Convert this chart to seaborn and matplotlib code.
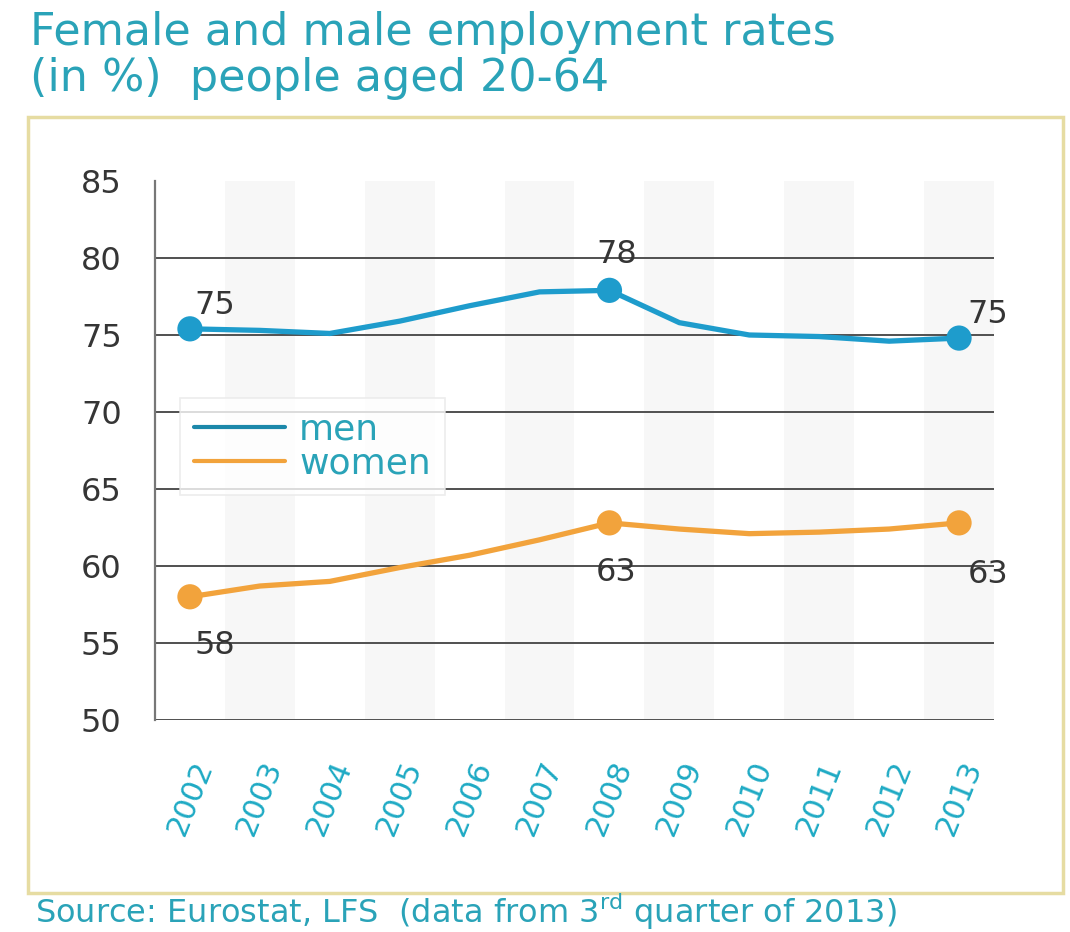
import matplotlib
matplotlib.use("Agg")
import matplotlib.pyplot as plt
from matplotlib.patches import Rectangle
from matplotlib.lines import Line2D
import seaborn as sns
import pandas as pd

# Employment rates (%) of people aged 20-64
years = ["2002", "2003", "2004", "2005", "2006", "2007",
         "2008", "2009", "2010", "2011", "2012", "2013"]
men = [75.4, 75.3, 75.1, 75.9, 76.9, 77.8, 77.9, 75.8, 75.0, 74.9, 74.6, 74.8]
women = [58.0, 58.7, 59.0, 59.9, 60.7, 61.7, 62.8, 62.4, 62.1, 62.2, 62.4, 62.8]
highlight_years = ["2002", "2008", "2013"]
y_ticks = [50, 55, 60, 65, 70, 75, 80, 85]

TEAL = "#2aa3b8"
XLAB = "#1eaac4"
MEN_C = "#1e9ccc"
WOMEN_C = "#f2a33c"
DARK = "#353535"

sns.set_style("white")
plt.rcParams["font.family"] = ["DejaVu Sans"]

idx = list(range(len(years)))
df = pd.DataFrame({
    "pos": idx * 2,
    "rate": men + women,
    "sex": ["men"] * len(years) + ["women"] * len(years),
})
hl = df[[years[p] in highlight_years for p in df["pos"]]]

fig = plt.figure(figsize=(10.7, 9.32), dpi=100)
W, H = 1070, 932
ax = fig.add_axes([155 / W, 1 - 720 / H, (994 - 155) / W, (720 - 181) / H])

# alternating column shading
for i in idx:
    if i % 2 == 1:
        ax.axvspan(i - 0.5, i + 0.5, color="#f7f7f7", lw=0, zorder=0)
for t in y_ticks[:-1]:
    ax.axhline(t, color="#505050", lw=1.4, zorder=1)

palette = {"men": MEN_C, "women": WOMEN_C}
sns.lineplot(data=df, x="pos", y="rate", hue="sex", palette=palette,
             lw=3.8, ax=ax, legend=False, zorder=3)
sns.scatterplot(data=hl, x="pos", y="rate", hue="sex", palette=palette,
                s=330, edgecolor="none", ax=ax, legend=False, zorder=4)

# value labels for highlighted years
offsets = {
    ("men", 0): (18, 17), ("men", 6): (5, 26), ("men", 11): (21, 17),
    ("women", 0): (18, -35), ("women", 6): (5, -36), ("women", 11): (21, -37),
}
for (sex, i), (dx, dy) in offsets.items():
    v = (men if sex == "men" else women)[i]
    ax.annotate(f"{v:.0f}", (i, v), xytext=(dx, dy), textcoords="offset points",
                ha="center", va="center", fontsize=23, color=DARK, zorder=5)

ax.set_xlim(-0.5, len(years) - 0.5)
ax.set_ylim(50, 85)
ax.set_yticks(y_ticks)
ax.set_yticklabels([str(t) for t in y_ticks], fontsize=23, color=DARK)
ax.set_xticks(idx)
ax.set_xticklabels(years, rotation=68, ha="center", va="top",
                   fontsize=22, color=XLAB)
ax.set_xticks([i - 0.5 for i in idx] + [len(years) - 0.5], minor=True)
ax.tick_params(axis="x", which="major", length=0, pad=26)
ax.tick_params(axis="x", which="minor", length=5, width=1.4, color="#666666",
               direction="out")
ax.tick_params(axis="y", length=8, width=1.2, color="#666666", pad=16,
               direction="out")
ax.set_xlabel("")
ax.set_ylabel("")
for s in ["top", "right", "bottom"]:
    ax.spines[s].set_visible(False)
ax.spines["left"].set_color("#777777")
ax.spines["left"].set_linewidth(1.6)
ax.set_facecolor("white")

handles = [Line2D([], [], color="#1c88aa", lw=3),
           Line2D([], [], color=WOMEN_C, lw=3)]
leg = ax.legend(handles, ["men", "women"], loc="upper left",
                bbox_to_anchor=(180 / W, 1 - 398 / H), bbox_transform=fig.transFigure,
                fontsize=26, handlelength=2.5, frameon=True, fancybox=False,
                borderpad=0.4, labelspacing=0.0, handletextpad=0.4,
                borderaxespad=0)
leg.get_frame().set_edgecolor("#e8e8e8")
leg.get_frame().set_linewidth(1.2)
for txt in leg.get_texts():
    txt.set_color(TEAL)
leg.set_zorder(6)

# outer frame
fig.patches.append(Rectangle((28 / W, 1 - 893 / H), (1063 - 28) / W, (893 - 117) / H,
                             transform=fig.transFigure, fill=False,
                             edgecolor="#e6dca2", lw=2.5))

fig.text(30 / W, 1 - 33 / H, "Female and male employment rates",
         fontsize=32, color=TEAL, va="center", ha="left")
fig.text(30 / W, 1 - 79 / H, "(in %)  people aged 20-64",
         fontsize=32, color=TEAL, va="center", ha="left")
fig.text(35 / W, 1 - 912 / H,
         r"Source: Eurostat, LFS  (data from 3$^{\mathregular{rd}}$ quarter of 2013)",
         fontsize=23, color=TEAL, va="center", ha="left")

fig.savefig("out.png", dpi=100, facecolor="white")
